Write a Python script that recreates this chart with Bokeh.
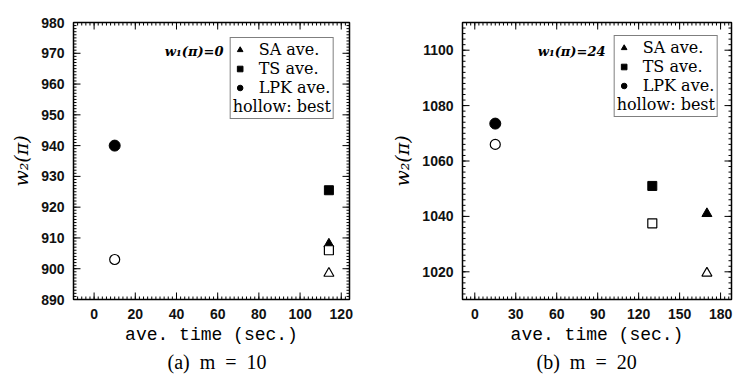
import math
import numpy as np
from bokeh.plotting import figure
from bokeh.models import (Range1d, LinearAxis, SingleIntervalTicker, Legend, LegendItem,
                          Label, Title)
from bokeh.layouts import row
from bokeh.embed import file_html
from bokeh.resources import INLINE

# ---- data (a) m = 10 ----
a_lpk_ave = (10, 940.0)
a_lpk_best = (10, 903.0)
a_ts_ave = (114, 925.5)
a_ts_best = (114, 906.0)
a_sa_ave = (114, 908.0)
a_sa_best = (114, 898.5)

# ---- data (b) m = 20 ----
b_lpk_ave = (15, 1073.5)
b_lpk_best = (15, 1066.0)
b_ts_ave = (130, 1051.0)
b_ts_best = (130, 1037.5)
b_sa_ave = (170, 1041.0)
b_sa_best = (170, 1019.5)

SERIF = "DejaVu Serif"
SANS = "Liberation Sans"
MONO = "Liberation Mono"
NB = "\u00a0"

HAS_TITLE_LOC = "title_location" in Legend.properties()


def multiples(lo, hi, step):
    start = math.ceil(lo / step) * step
    return list(np.arange(start, hi + 1e-9, step))


def make_panel(xr, yr, xstep, ystep, data, note, caption, border_left, border_right,
               border_top, legend_margin, cap_offset):
    lpk_ave, lpk_best, ts_ave, ts_best, sa_ave, sa_best = data
    p = figure(width=369, height=379, x_range=Range1d(*xr), y_range=Range1d(*yr),
               output_backend="svg", toolbar_location=None, x_axis_type=None,
               y_axis_type=None,
               min_border_left=border_left, min_border_right=border_right,
               min_border_top=border_top, min_border_bottom=80)
    p.background_fill_color = None
    p.border_fill_color = None
    p.outline_line_color = "black"
    p.outline_line_width = 1.5
    p.xgrid.visible = False
    p.ygrid.visible = False

    # label axes (ticks are drawn separately, pointing inward)
    def label_axis(step):
        ax = LinearAxis(ticker=SingleIntervalTicker(interval=step, num_minor_ticks=10))
        ax.major_tick_in = 0
        ax.major_tick_out = 0
        ax.minor_tick_in = 0
        ax.minor_tick_out = 0
        ax.axis_line_color = None
        ax.major_tick_line_color = None
        ax.minor_tick_line_color = None
        ax.major_label_text_font = SANS
        ax.major_label_text_font_size = "14px"
        ax.major_label_text_font_style = "bold"
        ax.major_label_text_color = "#111111"
        ax.major_label_standoff = 9
        return ax

    xb = label_axis(xstep)
    xb.axis_label = "ave. time (sec.)"
    xb.axis_label_text_font = MONO
    xb.axis_label_text_font_style = "normal"
    xb.axis_label_text_font_size = "18px"
    xb.axis_label_text_color = "black"
    xb.axis_label_standoff = 3
    p.add_layout(xb, "below")
    yl = label_axis(ystep)
    yl.axis_label = "w\u2082(\u03c0)"
    yl.axis_label_text_font = SERIF
    yl.axis_label_text_font_style = "italic"
    yl.axis_label_text_font_size = "19px"
    yl.axis_label_text_color = "black"
    yl.axis_label_standoff = 6
    p.add_layout(yl, "left")

    # inward ticks on all four frame edges (half of each dash is clipped by the frame)
    for step, size in ((xstep, 14), (xstep / 10.0, 6)):
        xs = multiples(xr[0], xr[1], step)
        for edge in (yr[0], yr[1]):
            p.scatter(xs, [edge] * len(xs), marker="dash", size=size, angle=math.pi / 2,
                      line_color="black", line_width=1)
    for step, size in ((ystep, 14), (ystep / 10.0, 6)):
        ys = multiples(yr[0], yr[1], step)
        for edge in (xr[0], xr[1]):
            p.scatter([edge] * len(ys), ys, marker="dash", size=size, angle=0,
                      line_color="black", line_width=1)

    sa = p.scatter([sa_ave[0]], [sa_ave[1]], marker="triangle", size=10,
                   fill_color="black", line_color="black")
    ts = p.scatter([ts_ave[0]], [ts_ave[1]], marker="square", size=9,
                   fill_color="black", line_color="black")
    lpk = p.scatter([lpk_ave[0]], [lpk_ave[1]], marker="circle", size=11,
                    fill_color="black", line_color="black")
    p.scatter([sa_best[0]], [sa_best[1]], marker="triangle", size=10,
              fill_color="white", line_color="black", line_width=1.2)
    p.scatter([ts_best[0]], [ts_best[1]], marker="square", size=9,
              fill_color="white", line_color="black", line_width=1.2)
    p.scatter([lpk_best[0]], [lpk_best[1]], marker="circle", size=10,
              fill_color="white", line_color="black", line_width=1.2)

    items = [LegendItem(label="SA ave.", renderers=[sa]),
             LegendItem(label="TS ave.", renderers=[ts]),
             LegendItem(label="LPK ave.", renderers=[lpk])]
    if HAS_TITLE_LOC:
        legend = Legend(items=items, location="top_right", title="hollow: best",
                        title_location="below")
        legend.title_text_font = SERIF
        legend.title_text_font_style = "normal"
        legend.title_text_font_size = "16px"
        legend.title_text_color = "black"
        legend.title_standoff = 0
    else:
        dummy = p.scatter([lpk_best[0]], [lpk_best[1]], marker="circle", size=0,
                          fill_alpha=0, line_alpha=0)
        items.append(LegendItem(label="hollow: best", renderers=[dummy]))
        legend = Legend(items=items, location="top_right")
    legend.margin = legend_margin
    legend.padding = 2
    legend.spacing = 0
    legend.glyph_width = 14
    legend.label_standoff = 12
    legend.label_height = 19
    legend.glyph_height = 19
    legend.label_text_font = SERIF
    legend.label_text_font_size = "16px"
    legend.label_text_color = "black"
    legend.border_line_color = "black"
    legend.border_line_width = 1
    legend.background_fill_color = "white"
    legend.background_fill_alpha = 1
    p.add_layout(legend)

    p.add_layout(Label(x=note[0], y=note[1], x_units="screen", y_units="screen",
                       text=note[2], text_font=SERIF, text_font_style="bold italic",
                       text_font_size="13px", text_align="right", text_baseline="middle",
                       text_color="black"))

    cap = Title(text=caption, align="left", text_font="Liberation Serif",
                text_font_style="normal", text_font_size="20px", standoff=2,
                text_color="black", offset=cap_offset)
    p.add_layout(cap, "below")
    return p


pa = make_panel((-10, 124), (890, 980), 20, 10,
                (a_lpk_ave, a_lpk_best, a_ts_ave, a_ts_best, a_sa_ave, a_sa_best),
                (150, 248, "w\u2081(\u03c0)=0"), "(a)" + NB * 2 + "m" + NB * 2 + "=" + NB * 2 + "10",
                73, 20, 21, 15, 94)
pb = make_panel((-9, 188), (1010, 1110), 30, 20,
                (b_lpk_ave, b_lpk_best, b_ts_ave, b_ts_best, b_sa_ave, b_sa_best),
                (143, 248, "w\u2081(\u03c0)=24"), "(b)" + NB * 2 + "m" + NB * 2 + "=" + NB * 2 + "20",
                93, 7, 22, 13, 74)

layout = row(pa, pb)
open("out.html", "w").write(file_html(layout, INLINE))
